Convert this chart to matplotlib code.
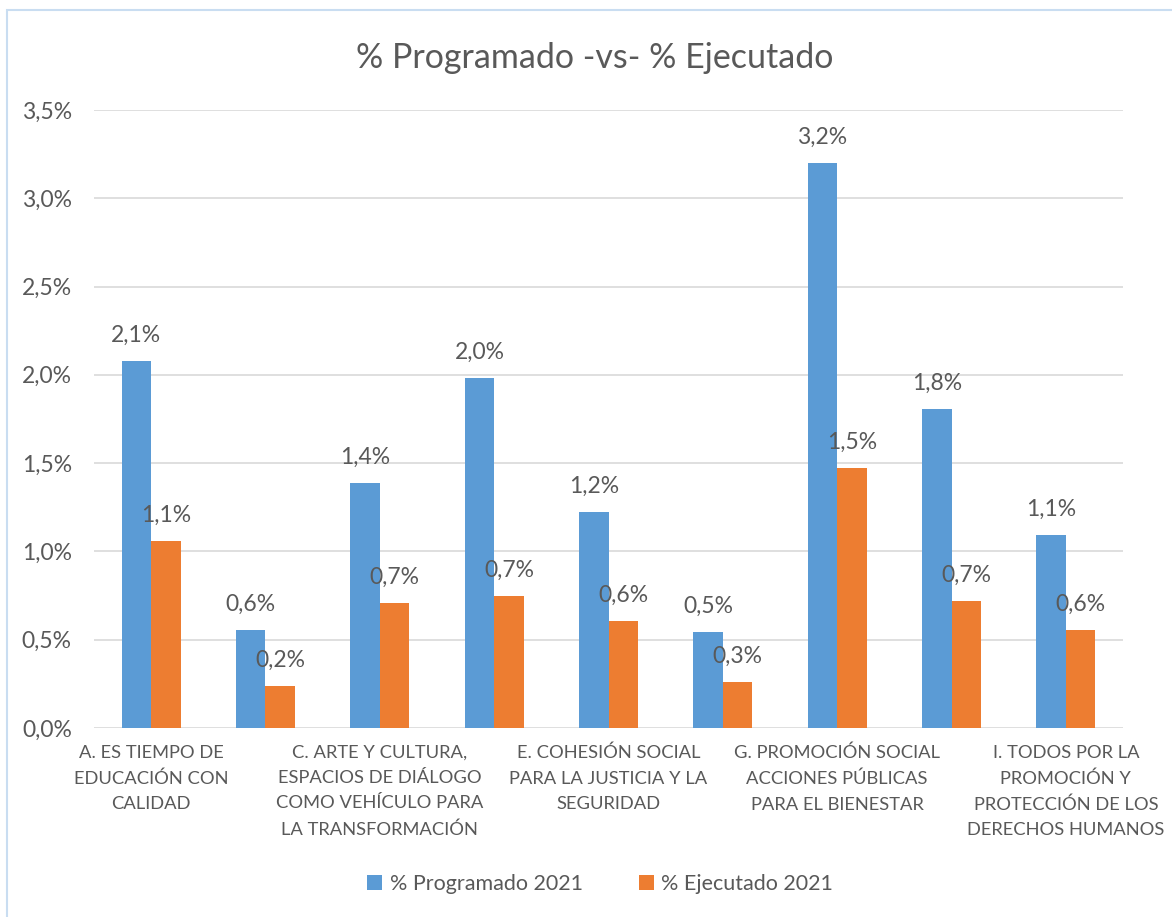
import matplotlib.pyplot as plt
import numpy as np

# categorias (solo las impares se muestran en el eje, como en Excel)
categorias = [
    "A. ES TIEMPO DE\nEDUCACIÓN CON\nCALIDAD",
    "B.",
    "C. ARTE Y CULTURA,\nESPACIOS DE DIÁLOGO\nCOMO VEHÍCULO PARA\nLA TRANSFORMACIÓN",
    "D.",
    "E. COHESIÓN SOCIAL\nPARA LA JUSTICIA Y LA\nSEGURIDAD",
    "F.",
    "G. PROMOCIÓN SOCIAL\nACCIONES PÚBLICAS\nPARA EL BIENESTAR",
    "H.",
    "I. TODOS POR LA\nPROMOCIÓN Y\nPROTECCIÓN DE LOS\nDERECHOS HUMANOS",
]
programado = [2.08, 0.555, 1.387, 1.982, 1.223, 0.544, 3.20, 1.806, 1.093]
ejecutado = [1.059, 0.24, 0.708, 0.747, 0.606, 0.26, 1.472, 0.719, 0.555]

azul = "#5B9BD5"
naranja = "#ED7D31"
gris = "#595959"

plt.rcParams['font.family'] = ['Lato', 'DejaVu Sans']

fig = plt.figure(figsize=(11.72, 9.17), dpi=100)
# marco del grafico
fig.patches.append(plt.Rectangle((0.006, -0.01), 1.2, 0.999, transform=fig.transFigure,
                                 fill=False, edgecolor="#C9DDF1", linewidth=1.5))
ax = fig.add_axes([0.0802, 0.2061, 0.878, 0.674])

x = np.arange(len(categorias))
w = 0.258
b1 = ax.bar(x - w / 2, programado, w, color=azul, label="% Programado 2021", zorder=3)
b2 = ax.bar(x + w / 2, ejecutado, w, color=naranja, label="% Ejecutado 2021", zorder=3)

def fmt(v):
    return f"{v:.1f}%".replace(".", ",")

for barras in (b1, b2):
    for b in barras:
        ax.annotate(fmt(b.get_height()), (b.get_x() + b.get_width() / 2, b.get_height()),
                    xytext=(0, 11), textcoords="offset points", ha="center", va="bottom",
                    fontsize=16.5, color=gris)

ax.set_ylim(0, 3.5)
ax.set_xlim(-0.5, len(categorias) - 0.5)
yt = np.arange(0, 3.51, 0.5)
ax.set_yticks(yt)
ax.set_yticklabels([fmt(v) for v in yt], fontsize=16.5, color=gris)
ax.set_xticks(x)
ax.set_xticklabels([c if i % 2 == 0 else "" for i, c in enumerate(categorias)],
                   fontsize=13.2, color=gris, linespacing=1.72, va="top")
ax.tick_params(length=0)
ax.tick_params(axis="y", pad=16)
ax.tick_params(axis="x", pad=12)
ax.grid(axis="y", color="#D9D9D9", linewidth=1.2, zorder=0)
for s in ax.spines.values():
    s.set_visible(False)

ax.set_title("% Programado -vs- % Ejecutado", fontsize=24.5, color=gris, pad=30, x=0.487)

fig.legend(loc="lower center", bbox_to_anchor=(0.512, 0.004), ncol=2, frameon=False,
           fontsize=15.5, labelcolor=gris, handlelength=0.7, handleheight=0.7,
           handletextpad=0.35, columnspacing=2.6)

plt.savefig("out.png")
